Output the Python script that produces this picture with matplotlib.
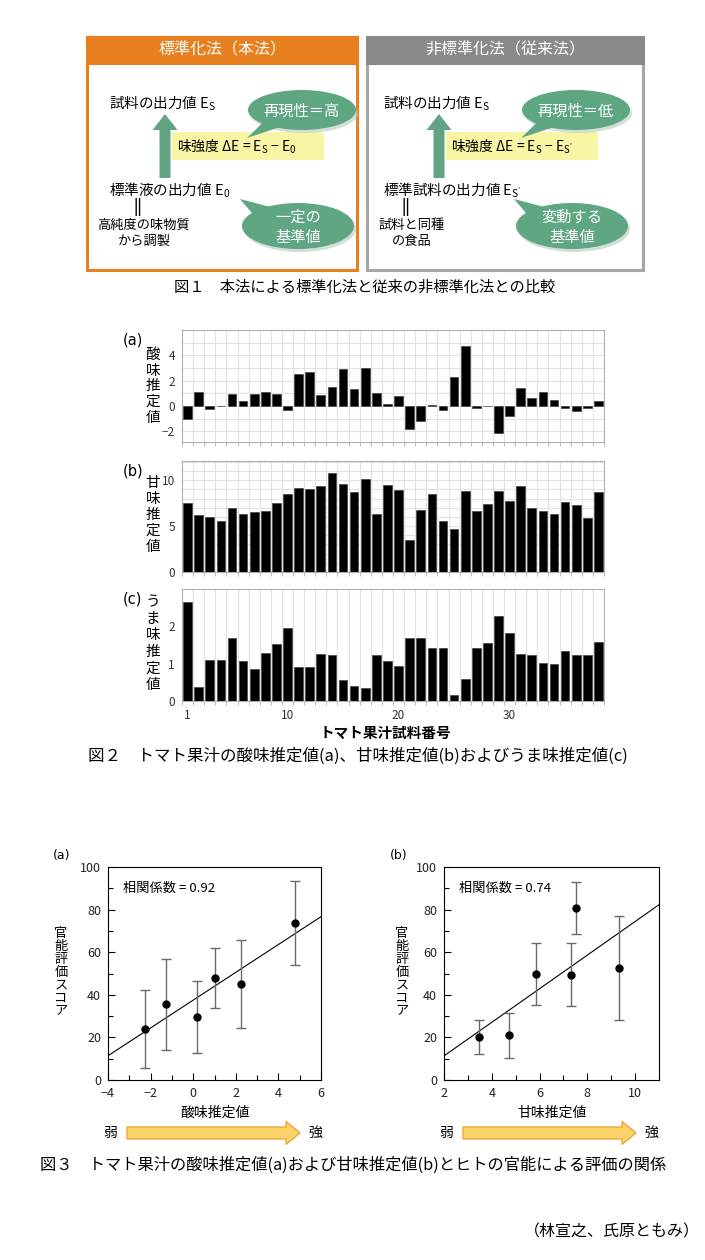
import numpy as np
import matplotlib
matplotlib.use("Agg")
import matplotlib.pyplot as plt
from matplotlib.patches import Rectangle, Ellipse, Polygon, FancyArrow
from matplotlib.ticker import MultipleLocator

plt.rcParams['font.family'] = ['Noto Sans CJK JP', 'DejaVu Sans']
plt.rcParams['axes.unicode_minus'] = True

# --- data -------------------------------------------------------------
sample_no = np.arange(1, 39)
sour = [-1.05, 1.13, -0.24, -0.03, 0.92, 0.40, 0.92, 1.13, 0.95, -0.30,
        2.50, 2.66, 0.84, 1.53, 2.90, 1.37, 3.00, 1.03, 0.18, 0.76,
        -1.84, -1.16, 0.05, -0.34, 2.29, 4.74, -0.18, -0.03, -2.16, -0.76,
        1.42, 0.63, 1.10, 0.45, -0.16, -0.39, -0.13, 0.37]
sweet = [7.49, 6.25, 5.96, 5.56, 6.95, 6.36, 6.55, 6.69, 7.53, 8.47,
         9.13, 9.02, 9.35, 10.84, 9.56, 8.69, 10.10, 6.29, 9.53, 8.98,
         3.53, 6.76, 8.51, 5.56, 4.69, 8.87, 6.62, 7.38, 8.80, 7.75,
         9.42, 7.02, 6.69, 6.36, 7.60, 7.31, 5.85, 8.73]
umami = [2.65, 0.37, 1.09, 1.10, 1.70, 1.07, 0.87, 1.29, 1.52, 1.96,
         0.91, 0.92, 1.27, 1.24, 0.57, 0.40, 0.34, 1.23, 1.08, 0.95,
         1.69, 1.70, 1.41, 1.41, 0.16, 0.58, 1.43, 1.56, 2.28, 1.82,
         1.26, 1.22, 1.03, 1.00, 1.35, 1.22, 1.22, 1.59]

sour_x = [-2.26, -1.26, 0.16, 1.00, 2.26, 4.76]
sour_score = [23.8, 35.6, 29.5, 47.8, 45.0, 73.7]
sour_err = [18.3, 21.3, 17.0, 14.2, 20.6, 19.5]
sweet_x = [3.45, 4.70, 5.85, 7.30, 7.52, 9.33]
sweet_score = [20.3, 21.0, 49.8, 49.5, 80.9, 52.6]
sweet_err = [8.1, 10.5, 14.5, 14.8, 12.2, 24.3]

W, H = 705, 1260
fig = plt.figure(figsize=(W / 100, H / 100), dpi=100)

# overlay in pixel coordinates for the schematic and the captions
ov = fig.add_axes([0, 0, 1, 1], zorder=0)
ov.set_xlim(0, W)
ov.set_ylim(H, 0)
ov.axis('off')


def box(x, y, w, h, **kw):
    return Rectangle((x, y), w, h, **kw)


def vtext(x, y0, s, step, size, **kw):
    for i, ch in enumerate(s):
        ov.text(x, y0 + i * step, ch, ha='center', va='center', fontsize=size, **kw)


def bubble(cx, cy, w, h, tail, text):
    tx, ty = tail
    ov.add_patch(Ellipse((cx + 2, cy + 3), w, h, color='#b8c9bf', alpha=0.6, lw=0))
    ov.add_patch(Polygon([(cx - w * 0.30, cy + h * 0.15), (cx - w * 0.12, cy + h * 0.35), (tx, ty)]
                         if ty > cy else
                         [(cx - w * 0.33, cy - h * 0.05), (cx - w * 0.15, cy - h * 0.35), (tx, ty)],
                         closed=True, color='#5fa683', lw=0))
    ov.add_patch(Ellipse((cx, cy), w, h, color='#5fa683', lw=0))
    ov.text(cx, cy + 1, text, ha='center', va='center', color='white', fontsize=11,
            linespacing=1.25)


# --- figure 1 ---------------------------------------------------------
panels = [
    dict(x0=87, w=270, col='#e8801f', edge='#e8801f', title='標準化法（本法）', dx=0,
         top='試料の出力値 $\\mathregular{E_S}$',
         delta='味強度 ΔE = $\\mathregular{E_S}$ − $\\mathregular{E_0}$',
         base='標準液の出力値 $\\mathregular{E_0}$', sub='高純度の味物質\nから調製', subx=144,
         b1='再現性＝高', b2='一定の\n基準値'),
    dict(x0=367, w=276, col='#8a8a8a', edge='#a6a6a6', title='非標準化法（従来法）', dx=274,
         top='試料の出力値 $\\mathregular{E_S}$',
         delta='味強度 ΔE = $\\mathregular{E_S}$ − $\\mathregular{E_{S\'}}$',
         base='標準試料の出力値 $\\mathregular{E_{S\'}}$', sub='試料と同種\nの食品', subx=412,
         b1='再現性＝低', b2='変動する\n基準値'),
]
for p in panels:
    x0, w, dx = p['x0'], p['w'], p['dx']
    ov.add_patch(box(x0, 37, w, 233, facecolor='white', edgecolor=p['edge'], lw=2.2))
    ov.add_patch(box(x0, 37, w, 26, facecolor=p['col'], edgecolor=p['col'], lw=2.2))
    ov.text(x0 + w / 2, 50, p['title'], ha='center', va='center', color='white', fontsize=11.5)
    ov.text(109 + dx, 103, p['top'], ha='left', va='center', fontsize=10.5)
    ov.add_patch(box(172 + dx, 132, 152, 28, facecolor='#f8f6a4', lw=0))
    ov.text(177 + dx, 147, p['delta'], ha='left', va='center', fontsize=10)
    ov.add_patch(FancyArrow(165 + dx, 178, 0, -64, width=11, head_width=25, head_length=16,
                            length_includes_head=True, color='#62a383', lw=0))
    ov.text(109 + dx, 190, p['base'], ha='left', va='center', fontsize=10.5)
    ov.text(p['subx'] - 6, 207, '||', ha='center', va='center', fontsize=10.5,
            fontweight='bold')
    ov.text(p['subx'], 233, p['sub'], ha='center', va='center', fontsize=9.5, linespacing=1.3)
    bubble(302 + dx, 110, 108, 40, (247 + dx, 138), p['b1'])
    bubble(298 + dx, 226, 112, 46, (240 + dx, 199), p['b2'])

ov.text(365, 287, '図１　本法による標準化法と従来の非標準化法との比較', ha='center', va='center',
        fontsize=11)

# --- figure 2 ---------------------------------------------------------
def ax_px(x1, y1, x2, y2):
    return fig.add_axes([x1 / W, 1 - y2 / H, (x2 - x1) / W, (y2 - y1) / H], zorder=1)


bar_specs = [
    (330, 442, sour, (-2.85, 6), [-2, 0, 2, 4], True, '(a)', '酸味推定値', 355, 15.7),
    (461, 572, sweet, (0, 12.1), [0, 5, 10], True, '(b)', '甘味推定値', 483, 16),
    (589, 701, umami, (0, 3.0), [0, 1, 2], False, '(c)', 'うま味推定値', 602, 16.6),
]
for i, (y1, y2, vals, ylim, yt, hgrid, tag, lab, ly0, lstep) in enumerate(bar_specs):
    ax = ax_px(182, y1, 604, y2)
    ax.bar(sample_no, vals, width=0.78, color='black', edgecolor='#444', lw=0.5, zorder=3)
    ax.set_xlim(0.5, 38.5)
    ax.set_ylim(*ylim)
    ax.set_yticks(yt)
    ax.set_xticks(np.arange(0.5, 39, 1), minor=True)
    ax.grid(which='minor', axis='x', color='#e2e2e2', lw=0.8, zorder=0)
    if hgrid:
        ax.yaxis.set_minor_locator(MultipleLocator(1))
        ax.grid(which='both', axis='y', color='#e2e2e2', lw=0.8, zorder=0)
    for s in ax.spines.values():
        s.set_color('#b0b0b0')
        s.set_linewidth(0.8)
    ax.tick_params(axis='y', which='both', length=0, pad=5, labelsize=8.5, labelcolor='#333')
    ax.tick_params(axis='x', which='minor', length=3, color='#b0b0b0', direction='out')
    if i == 2:
        ax.set_xticks([1, 10, 20, 30])
        ax.tick_params(axis='x', which='major', length=0, pad=6, labelsize=8.5, labelcolor='#333')
    else:
        ax.set_xticks([])
        ax.set_xticks(np.arange(0.5, 39, 1), minor=True)
        ax.tick_params(axis='x', which='minor', length=3, color='#b0b0b0', direction='out',
                       labelbottom=False)
    ov.text(123, y1 + 10, tag, ha='left', va='center', fontsize=10.5, family='DejaVu Sans')
    vtext(153, ly0, lab, lstep, 10.5)

ov.text(385, 733, 'トマト果汁試料番号', ha='center', va='center', fontsize=10.5, fontweight='bold')
ov.text(88, 756, '図２　トマト果汁の酸味推定値(a)、甘味推定値(b)およびうま味推定値(c)',
        ha='left', va='center', fontsize=11.9)

# --- figure 3 ---------------------------------------------------------
sc_specs = [
    (108, 321, sour_x, sour_score, sour_err, (-4, 6), 2, '(a)', 53, '0.92', '酸味推定値', 61),
    (444, 659, sweet_x, sweet_score, sweet_err, (2, 11), 2, '(b)', 390, '0.74', '甘味推定値', 402),
]
for (x1, x2, xs, ys, es, xlim, xmaj, tag, tagx, r, xlab, ylx) in sc_specs:
    ax = ax_px(x1, 867, x2, 1080)
    ax.errorbar(xs, ys, yerr=es, fmt='o', color='black', ms=5, ecolor='#6a6a6a',
                elinewidth=1, capsize=3.5, capthick=1, zorder=3)
    coef = np.polyfit(xs, ys, 1)
    xx = np.array(xlim, dtype=float)
    ax.plot(xx, np.polyval(coef, xx), color='black', lw=0.8, zorder=2)
    ax.set_xlim(*xlim)
    ax.set_ylim(0, 100)
    ax.xaxis.set_major_locator(MultipleLocator(xmaj))
    ax.xaxis.set_minor_locator(MultipleLocator(1))
    ax.yaxis.set_major_locator(MultipleLocator(20))
    ax.yaxis.set_minor_locator(MultipleLocator(10))
    ax.tick_params(which='both', direction='in', top=False, right=False, labelsize=9,
                   labelcolor='#222')
    ax.tick_params(which='major', length=5, width=0.8, pad=5)
    ax.tick_params(which='minor', length=3.5, width=0.8)
    for s in ax.spines.values():
        s.set_linewidth(0.8)
    ax.text(0.07, 0.9, f'相関係数 = {r}', transform=ax.transAxes, fontsize=9.5,
            ha='left', va='center')
    ov.text(tagx, 855, tag, ha='left', va='center', fontsize=9, family='DejaVu Sans')
    vtext(ylx, 934, '官能評価スコア', 12.8, 9.5)
    ov.text((x1 + x2) / 2, 1113, xlab, ha='center', va='center', fontsize=10)
    # weak -> strong arrow
    ax0 = x1 + 19
    ov.add_patch(FancyArrow(ax0, 1133, 173, 0, width=12, head_width=23, head_length=14,
                            length_includes_head=True, facecolor='#fad468',
                            edgecolor='#eda53c', lw=1))
    ov.text(ax0 - 17, 1133, '弱', ha='center', va='center', fontsize=10)
    ov.text(ax0 + 188, 1133, '強', ha='center', va='center', fontsize=10)

ov.text(40, 1165, '図３　トマト果汁の酸味推定値(a)および甘味推定値(b)とヒトの官能による評価の関係',
        ha='left', va='center', fontsize=11.7)
ov.text(700, 1232, '（林宣之、氏原ともみ）', ha='right', va='center', fontsize=11.5)

fig.savefig('out.png', dpi=100)
